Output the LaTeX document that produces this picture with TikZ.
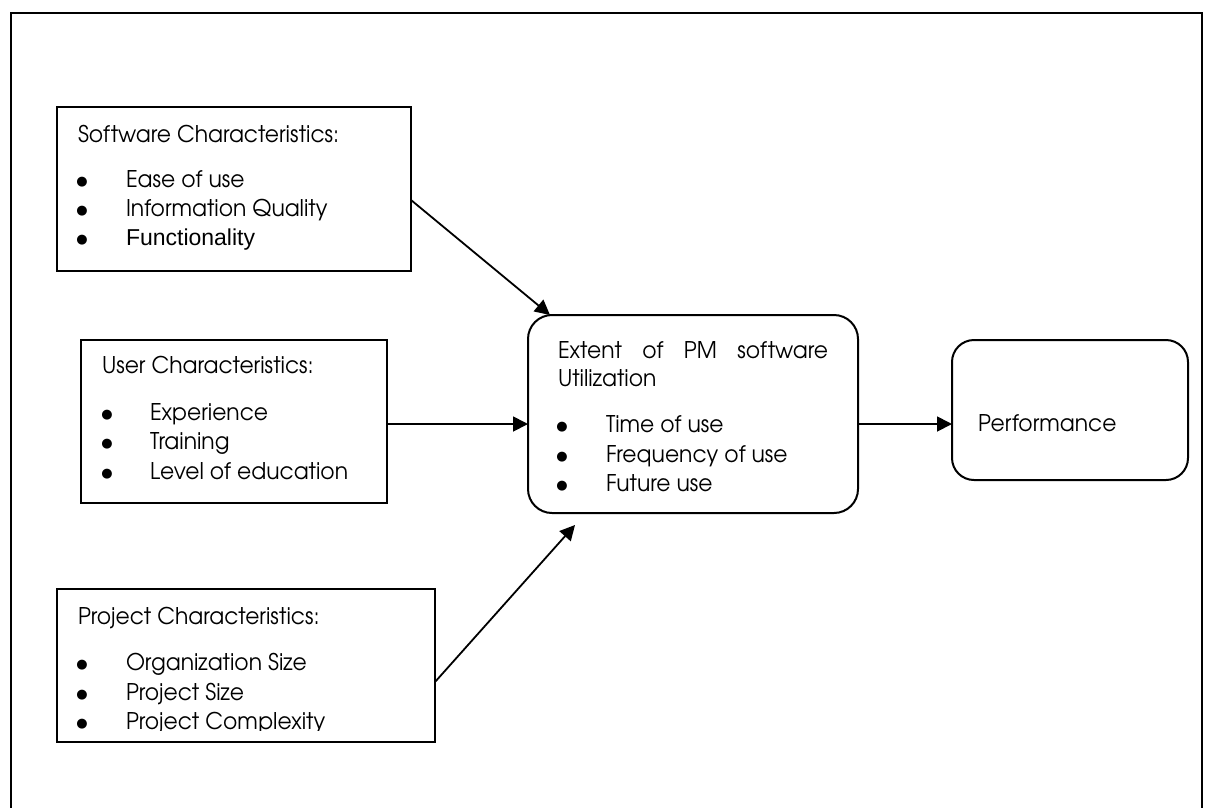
\documentclass[tikz,border=0pt]{standalone}
\usepackage{fontspec}
\setmainfont{TeX Gyre Adventor}[FakeStretch=0.95]
\newfontfamily\arialfont{Liberation Sans}
\newfontfamily\dejavufont{DejaVu Sans}
\usetikzlibrary{arrows.meta,calc}
\begin{document}
\begin{tikzpicture}[x=1pt,y=-1pt,
  font=\fontsize{23}{27}\selectfont,
  frame/.style={draw, line width=2.6pt},
  box/.style={draw, line width=2pt, inner sep=0pt, outer sep=0pt, anchor=north west},
  rbox/.style={box, rounded corners=24pt},
  txt/.style={anchor=base west, inner sep=0pt, outer sep=0pt},
  bul/.style={anchor=base, inner sep=0pt, outer sep=0pt, font=\dejavufont\fontsize{13}{13}\selectfont},
  conn/.style={line width=1.8pt, -{Triangle[length=15pt,width=15pt]}}]
\useasboundingbox (0,0) rectangle (1205,807);
\draw[frame] (11,13) rectangle (1202,840);
% Software box
\node[box, minimum width=354pt, minimum height=164pt] (sw) at (57,107) {};
\node[txt] (swt) at (78,142) {Software Characteristics:};
\node[bul] (swb1) at (82,185) {●};
\node[bul] (swb2) at (82,214) {●};
\node[bul] (swb3) at (82,243) {●};
\node[txt] (swi1) at (126,187) {Ease of use};
\node[txt] (swi2) at (126,216) {Information Quality};
\node[txt] (swi3) at (126,245) {\arialfont Functionality};
% User box
\node[box, minimum width=306pt, minimum height=163pt] (uc) at (81,340) {};
\node[txt] (uct) at (102,373) {User Characteristics:};
\node[bul] (ucb1) at (107,418) {●};
\node[bul] (ucb2) at (107,447) {●};
\node[bul] (ucb3) at (107,477) {●};
\node[txt] (uci1) at (150,420) {Experience};
\node[txt] (uci2) at (150,449) {Training};
\node[txt] (uci3) at (150,479) {Level of education};
% Project box
\node[box, minimum width=378pt, minimum height=153pt] (pc) at (57,589) {};
\begin{scope}
\clip (0,0) rectangle (1205,730.5);
\node[txt] (pct) at (78,624) {Project Characteristics:};
\node[bul] (pcb1) at (82,668) {●};
\node[bul] (pcb2) at (82,698) {●};
\node[bul] (pcb3) at (82,727) {●};
\node[txt] (pci1) at (126,670) {Organization Size};
\node[txt] (pci2) at (126,700) {Project Size};
\node[txt] (pci3) at (126,729) {Project Complexity};
\end{scope}
% Extent box
\node[rbox, minimum width=330pt, minimum height=198pt] (ex) at (528,315) {};
\node[txt] (ext1) at (558,358) {\makebox[270pt][s]{Extent of PM software}};
\node[txt] (ext2) at (558,386) {Utilization};
\node[bul] (exb1) at (562,430) {●};
\node[bul] (exb2) at (562,460) {●};
\node[bul] (exb3) at (562,489) {●};
\node[txt] (exi1) at (606,432) {Time of use};
\node[txt] (exi2) at (606,462) {Frequency of use};
\node[txt] (exi3) at (606,491) {Future use};
% Performance box
\node[rbox, rounded corners=22pt, minimum width=236pt, minimum height=140pt] (pf) at (952,340) {};
\node[txt] (pft) at (978,431) {Performance};
% Connectors
\draw[conn] ([yshift=-11pt]sw.east) -- ([xshift=22pt]ex.north west);
\draw[conn] ([yshift=-2.5pt]uc.east) -- ([yshift=-2.5pt]uc.east -| ex.west);
\draw[conn] ([yshift=-16.5pt]pc.east) -- ([xshift=47pt,yshift=-12pt]ex.south west);
\draw[conn] ([yshift=-2.5pt]uc.east -| ex.east) -- ([yshift=-2.5pt]uc.east -| pf.west);
\end{tikzpicture}
\end{document}
